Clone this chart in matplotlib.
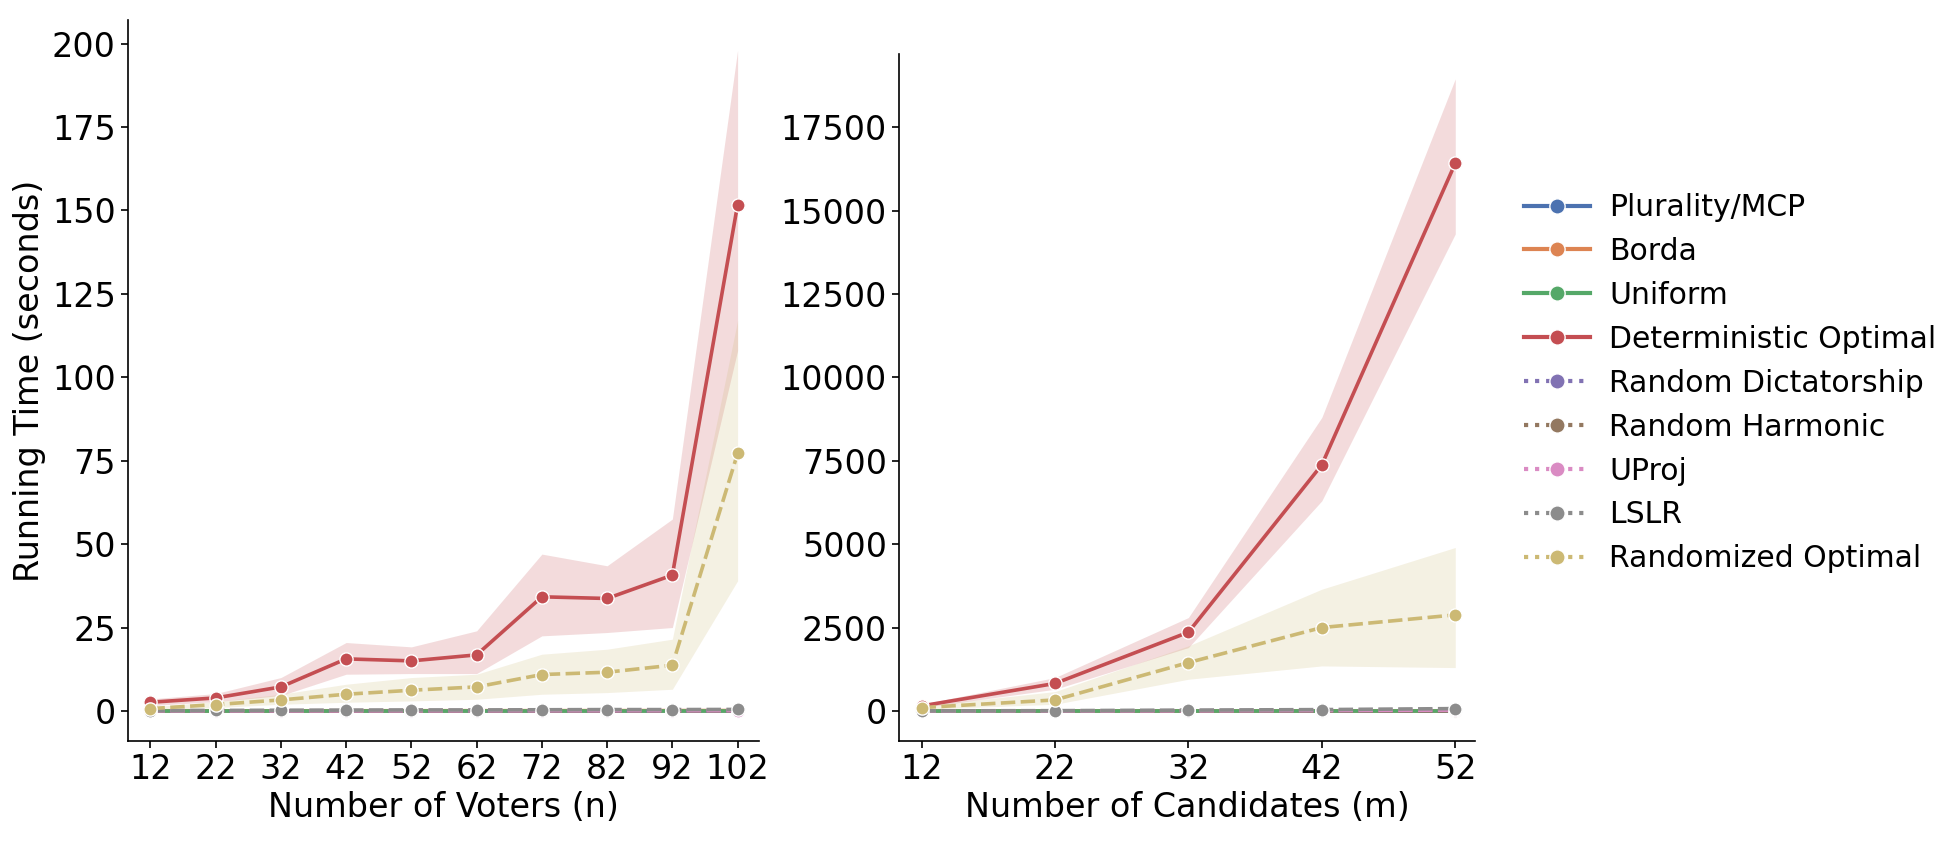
import matplotlib
matplotlib.use("Agg")
import matplotlib.pyplot as plt
from matplotlib.lines import Line2D

# ---- data (seconds) ----
voters = [12, 22, 32, 42, 52, 62, 72, 82, 92, 102]
candidates = [12, 22, 32, 42, 52]

methods = ["Plurality/MCP", "Borda", "Uniform", "Deterministic Optimal",
           "Random Dictatorship", "Random Harmonic", "UProj", "LSLR",
           "Randomized Optimal"]
colors = ["#4C72B0", "#DD8452", "#55A868", "#C44E52", "#8172B3",
          "#937860", "#DA8BC3", "#8C8C8C", "#CCB974"]
randomized = [False, False, False, False, True, True, True, True, True]

# running time vs number of voters
n_plurality = [0.01, 0.01, 0.02, 0.02, 0.02, 0.03, 0.03, 0.03, 0.04, 0.04]
n_borda = [0.02, 0.03, 0.04, 0.05, 0.06, 0.07, 0.08, 0.09, 0.10, 0.11]
n_uniform = [0.01, 0.01, 0.01, 0.01, 0.01, 0.01, 0.01, 0.01, 0.01, 0.01]
n_det_opt = [2.6, 3.9, 7.2, 15.6, 15.0, 16.8, 34.2, 33.7, 40.7, 151.7]
n_det_lo = [1.6, 2.8, 4.6, 11.0, 11.2, 11.2, 22.5, 23.5, 25.0, 108.0]
n_det_hi = [3.6, 5.2, 10.0, 20.5, 19.2, 24.0, 47.0, 43.5, 57.5, 198.0]
n_rand_dict = [0.01, 0.01, 0.01, 0.01, 0.01, 0.01, 0.01, 0.01, 0.01, 0.01]
n_rand_harm = [0.01, 0.01, 0.02, 0.02, 0.02, 0.02, 0.03, 0.03, 0.03, 0.03]
n_uproj = [0.02, 0.03, 0.04, 0.05, 0.06, 0.07, 0.08, 0.09, 0.10, 0.11]
n_lslr = [0.1, 0.15, 0.2, 0.25, 0.3, 0.3, 0.35, 0.4, 0.4, 0.45]
n_rand_opt = [0.7, 1.9, 3.3, 5.0, 6.2, 7.2, 10.9, 11.6, 13.7, 77.2]
n_rand_lo = [0.3, 1.0, 2.0, 2.6, 3.0, 3.5, 5.0, 5.5, 6.5, 39.0]
n_rand_hi = [1.2, 2.8, 5.0, 8.0, 10.0, 11.0, 17.0, 18.5, 21.5, 117.0]

# running time vs number of candidates
m_plurality = [0.01, 0.02, 0.03, 0.05, 0.07]
m_borda = [0.02, 0.04, 0.08, 0.12, 0.18]
m_uniform = [0.01, 0.01, 0.01, 0.01, 0.01]
m_det_opt = [150, 824, 2360, 7380, 16420]
m_det_lo = [100, 650, 1900, 6300, 14300]
m_det_hi = [200, 1000, 2800, 8800, 18950]
m_rand_dict = [0.01, 0.02, 0.03, 0.04, 0.05]
m_rand_harm = [0.02, 0.03, 0.05, 0.08, 0.1]
m_uproj = [0.5, 2, 6, 14, 25]
m_lslr = [3, 8, 25, 40, 70]
m_rand_opt = [100, 330, 1450, 2500, 2880]
m_rand_lo = [50, 200, 950, 1350, 1300]
m_rand_hi = [150, 580, 1950, 3650, 4900]

n_series = [n_plurality, n_borda, n_uniform, n_det_opt, n_rand_dict,
            n_rand_harm, n_uproj, n_lslr, n_rand_opt]
m_series = [m_plurality, m_borda, m_uniform, m_det_opt, m_rand_dict,
            m_rand_harm, m_uproj, m_lslr, m_rand_opt]
n_bands = {3: (n_det_lo, n_det_hi), 8: (n_rand_lo, n_rand_hi)}
m_bands = {3: (m_det_lo, m_det_hi), 8: (m_rand_lo, m_rand_hi)}

FS = 24
plt.rcParams['font.family'] = ['DejaVu Sans']


def draw_panel(ax, x, series, bands):
    for i, ys in enumerate(series):
        if i in bands:
            lo, hi = bands[i]
            ax.fill_between(x, lo, hi, color=colors[i], alpha=0.2, linewidth=0)
        ls = (0, (4, 1.5)) if randomized[i] else '-'
        ax.plot(x, ys, color=colors[i], linestyle=ls, linewidth=2.6,
                marker='o', markersize=9.5, markeredgecolor='white',
                markeredgewidth=1.0)
    for side in ['top', 'right']:
        ax.spines[side].set_visible(False)
    for side in ['left', 'bottom']:
        ax.spines[side].set_linewidth(1.2)
    ax.tick_params(labelsize=FS, length=5, width=1.2)


fig = plt.figure(figsize=(19.54, 8.42), dpi=100)
ax1 = fig.add_axes([0.0653, 0.12, 0.3232, 0.856])
ax2 = fig.add_axes([0.46, 0.12, 0.295, 0.816])

draw_panel(ax1, voters, n_series, n_bands)
ax1.set_xticks(voters)
ax1.set_yticks(range(0, 201, 25))
ax1.set_xlim(8.5, 105.3)
ax1.set_ylim(-9, 207)
ax1.set_xlabel("Number of Voters (n)", fontsize=FS)
ax1.set_ylabel("Running Time (seconds)", fontsize=FS)

draw_panel(ax2, candidates, m_series, m_bands)
ax2.set_xticks(candidates)
ax2.set_yticks(range(0, 17501, 2500))
ax2.set_xlim(10.3, 53.5)
ax2.set_ylim(-900, 19700)
ax2.set_xlabel("Number of Candidates (m)", fontsize=FS)

# legend with custom handles (dotted for randomized mechanisms)
handles = []
for i, name in enumerate(methods):
    ls = ':' if randomized[i] else '-'
    handles.append(Line2D([0], [0], color=colors[i], linestyle=ls, linewidth=3,
                          marker='o', markersize=11, markeredgecolor='white',
                          markeredgewidth=1.0, label=name))
fig.legend(handles=handles, loc='upper left', bbox_to_anchor=(0.774, 0.785),
           frameon=False, fontsize=21.5, handlelength=2.2, handletextpad=0.65,
           labelspacing=0.5, borderaxespad=0)

fig.savefig("out.png", dpi=100)
